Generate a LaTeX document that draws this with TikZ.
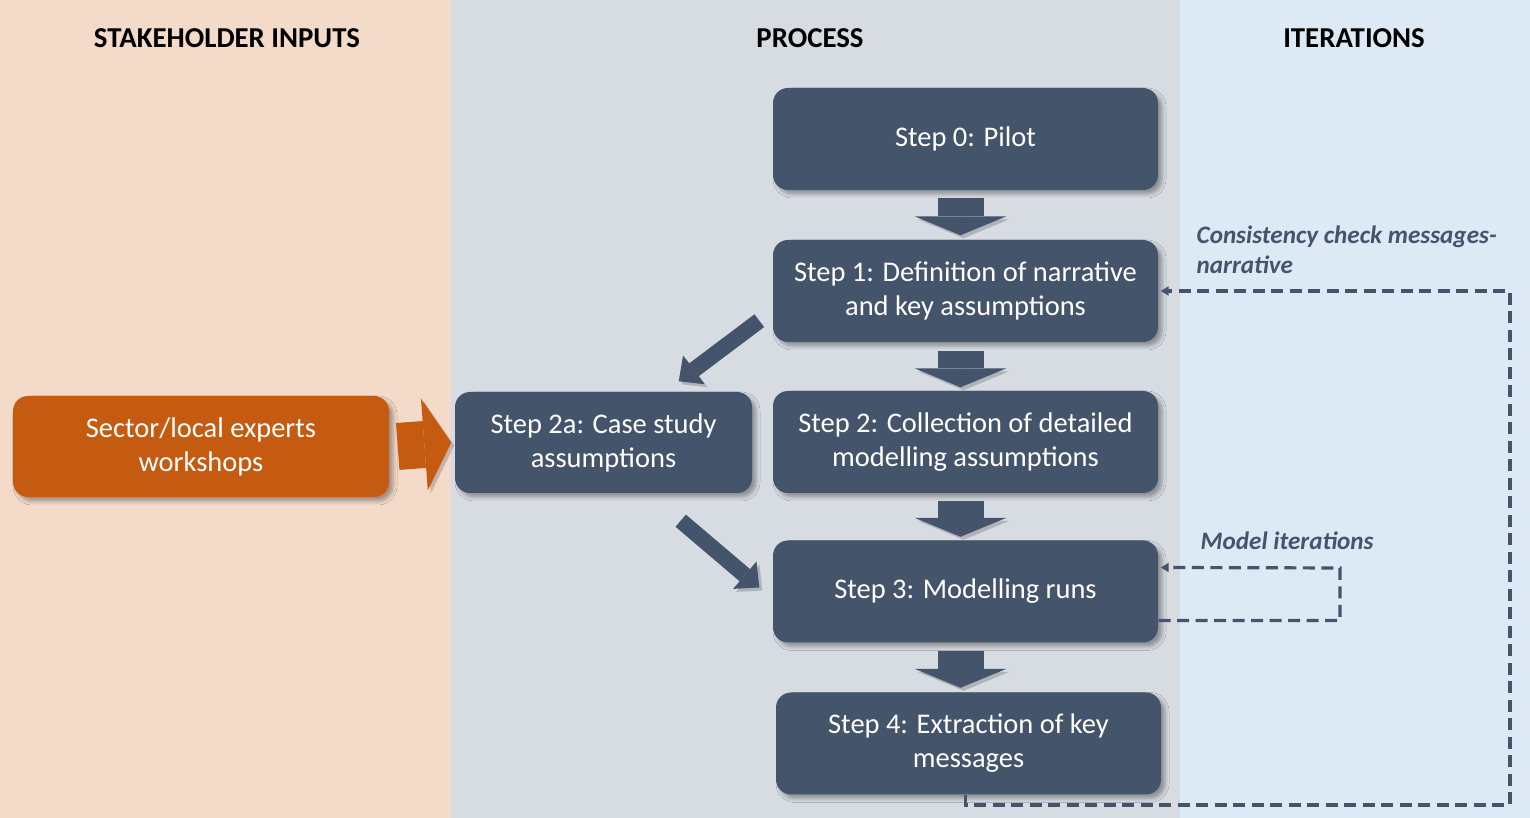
\documentclass[tikz,border=0pt]{standalone}
\usepackage{fontspec}
\setmainfont{Carlito}
\usetikzlibrary{arrows.meta,shadows.blur}
\definecolor{inputband}{HTML}{F4DAC9}
\definecolor{processband}{HTML}{D7DCE2}
\definecolor{iterband}{HTML}{DDE9F5}
\definecolor{slate}{HTML}{44546A}
\definecolor{rust}{HTML}{C55A11}
\begin{document}
\begin{tikzpicture}[
    stepbox/.style={fill=slate, rounded corners=0.15cm, minimum width=3.85cm,
        minimum height=1.02cm, text=white, align=center, inner sep=0pt,
        font=\fontsize{8.1}{9.7}\selectfont,
        blur shadow={shadow xshift=0.04cm, shadow yshift=-0.04cm,
            shadow blur radius=0.04cm, shadow opacity=35}},
    header/.style={font=\fontsize{8.2}{9.7}\selectfont\bfseries},
    iterlabel/.style={text=slate, inner sep=0pt, align=left,
        font=\fontsize{7.15}{8.5}\selectfont\bfseries\itshape},
    arrowshade/.style={preaction={draw=black, opacity=0.18,
        transform canvas={shift={(0.03cm,-0.03cm)}}}},
    fatdown/.style={slate, line width=0.46cm, arrowshade,
        -{Triangle[width=0.92cm, length=0.19cm, line width=0pt]}},
    slant/.style={slate, line width=0.16cm, arrowshade,
        -{Triangle[width=0.36cm, length=0.19cm, line width=0pt]}},
    feedback/.style={slate, line width=0.032cm, dash pattern=on 0.12cm off 0.065cm,
        -{Triangle[width=0.09cm, length=0.08cm]}}
]
    \useasboundingbox (0,0) rectangle (15.30,8.18);
    \fill[inputband] (0,0) rectangle (4.51,8.18);
    \fill[processband] (4.51,0) rectangle (11.80,8.18);
    \fill[iterband] (11.80,0) rectangle (15.30,8.18);

    \node[header] (hin) at (2.27,7.80) {STAKEHOLDER INPUTS};
    \node[header] (hproc) at (8.10,7.80) {PROCESS};
    \node[header] (hiter) at (13.54,7.80) {ITERATIONS};

    \node[stepbox] (s0) at (9.655,6.79) {Step 0: Pilot};
    \node[stepbox] (s1) at (9.655,5.27) {Step 1: Definition of narrative\\and key assumptions};
    \node[stepbox] (s2) at (9.655,3.76) {Step 2: Collection of detailed\\modelling assumptions};
    \node[stepbox] (s3) at (9.655,2.265) {Step 3: Modelling runs};
    \node[stepbox] (s4) at (9.685,0.745) {Step 4: Extraction of key\\messages};
    \node[stepbox, minimum width=2.97cm, minimum height=1.01cm] (s2a) at (6.035,3.755) {Step 2a: Case study\\assumptions};
    \node[stepbox, fill=rust, minimum width=3.76cm, minimum height=1.01cm] (sec) at (2.01,3.715) {Sector/local experts\\workshops};

    % block arrows down the process column
    \draw[fatdown] ([xshift=-0.05cm, yshift=-0.07cm]s0.south) -- ([xshift=-0.05cm, yshift=0.04cm]s1.north);
    \draw[fatdown] ([xshift=-0.05cm, yshift=-0.08cm]s1.south) -- ([xshift=-0.05cm, yshift=0.03cm]s2.north);
    \draw[fatdown] ([xshift=-0.05cm, yshift=-0.07cm]s2.south) -- ([xshift=-0.05cm, yshift=0.03cm]s3.north);
    \draw[fatdown] ([xshift=-0.05cm, yshift=-0.08cm]s3.south) -- ([xshift=-0.08cm, yshift=0.04cm]s4.north);

    % side branch through the case study
    \draw[slant] ([shift={(-0.13,0.22)}]s1.south west) -- ([shift={(-0.74,0.10)}]s2a.north east);
    \draw[slant] ([shift={(-0.72,-0.27)}]s2a.south east) -- ([shift={(-0.13,0.04)}]s3.west);

    \draw[rust, line width=0.47cm, arrowshade, -{Triangle[width=0.92cm, length=0.27cm, line width=0pt]}]
        ([xshift=0.08cm]sec.east) -- ([xshift=-0.03cm]s2a.west);

    % iteration loops
    \coordinate (loopbig) at (15.10,0.13);
    \coordinate (loopsmall) at (13.40,2.50);
    \draw[feedback] ([xshift=-0.03cm]s4.south) |- (loopbig) |- ([xshift=0.02cm]s1.east);
    \draw[feedback] ([yshift=-0.29cm]s3.east) -| (loopsmall) -- ([xshift=0.02cm, yshift=0.24cm]s3.east);

    \node[iterlabel, anchor=west] (lcons) at (11.96,5.68) {Consistency check messages-\\narrative};
    \node[iterlabel, anchor=west] (lmodel) at (12.00,2.77) {Model iterations};
\end{tikzpicture}
\end{document}
